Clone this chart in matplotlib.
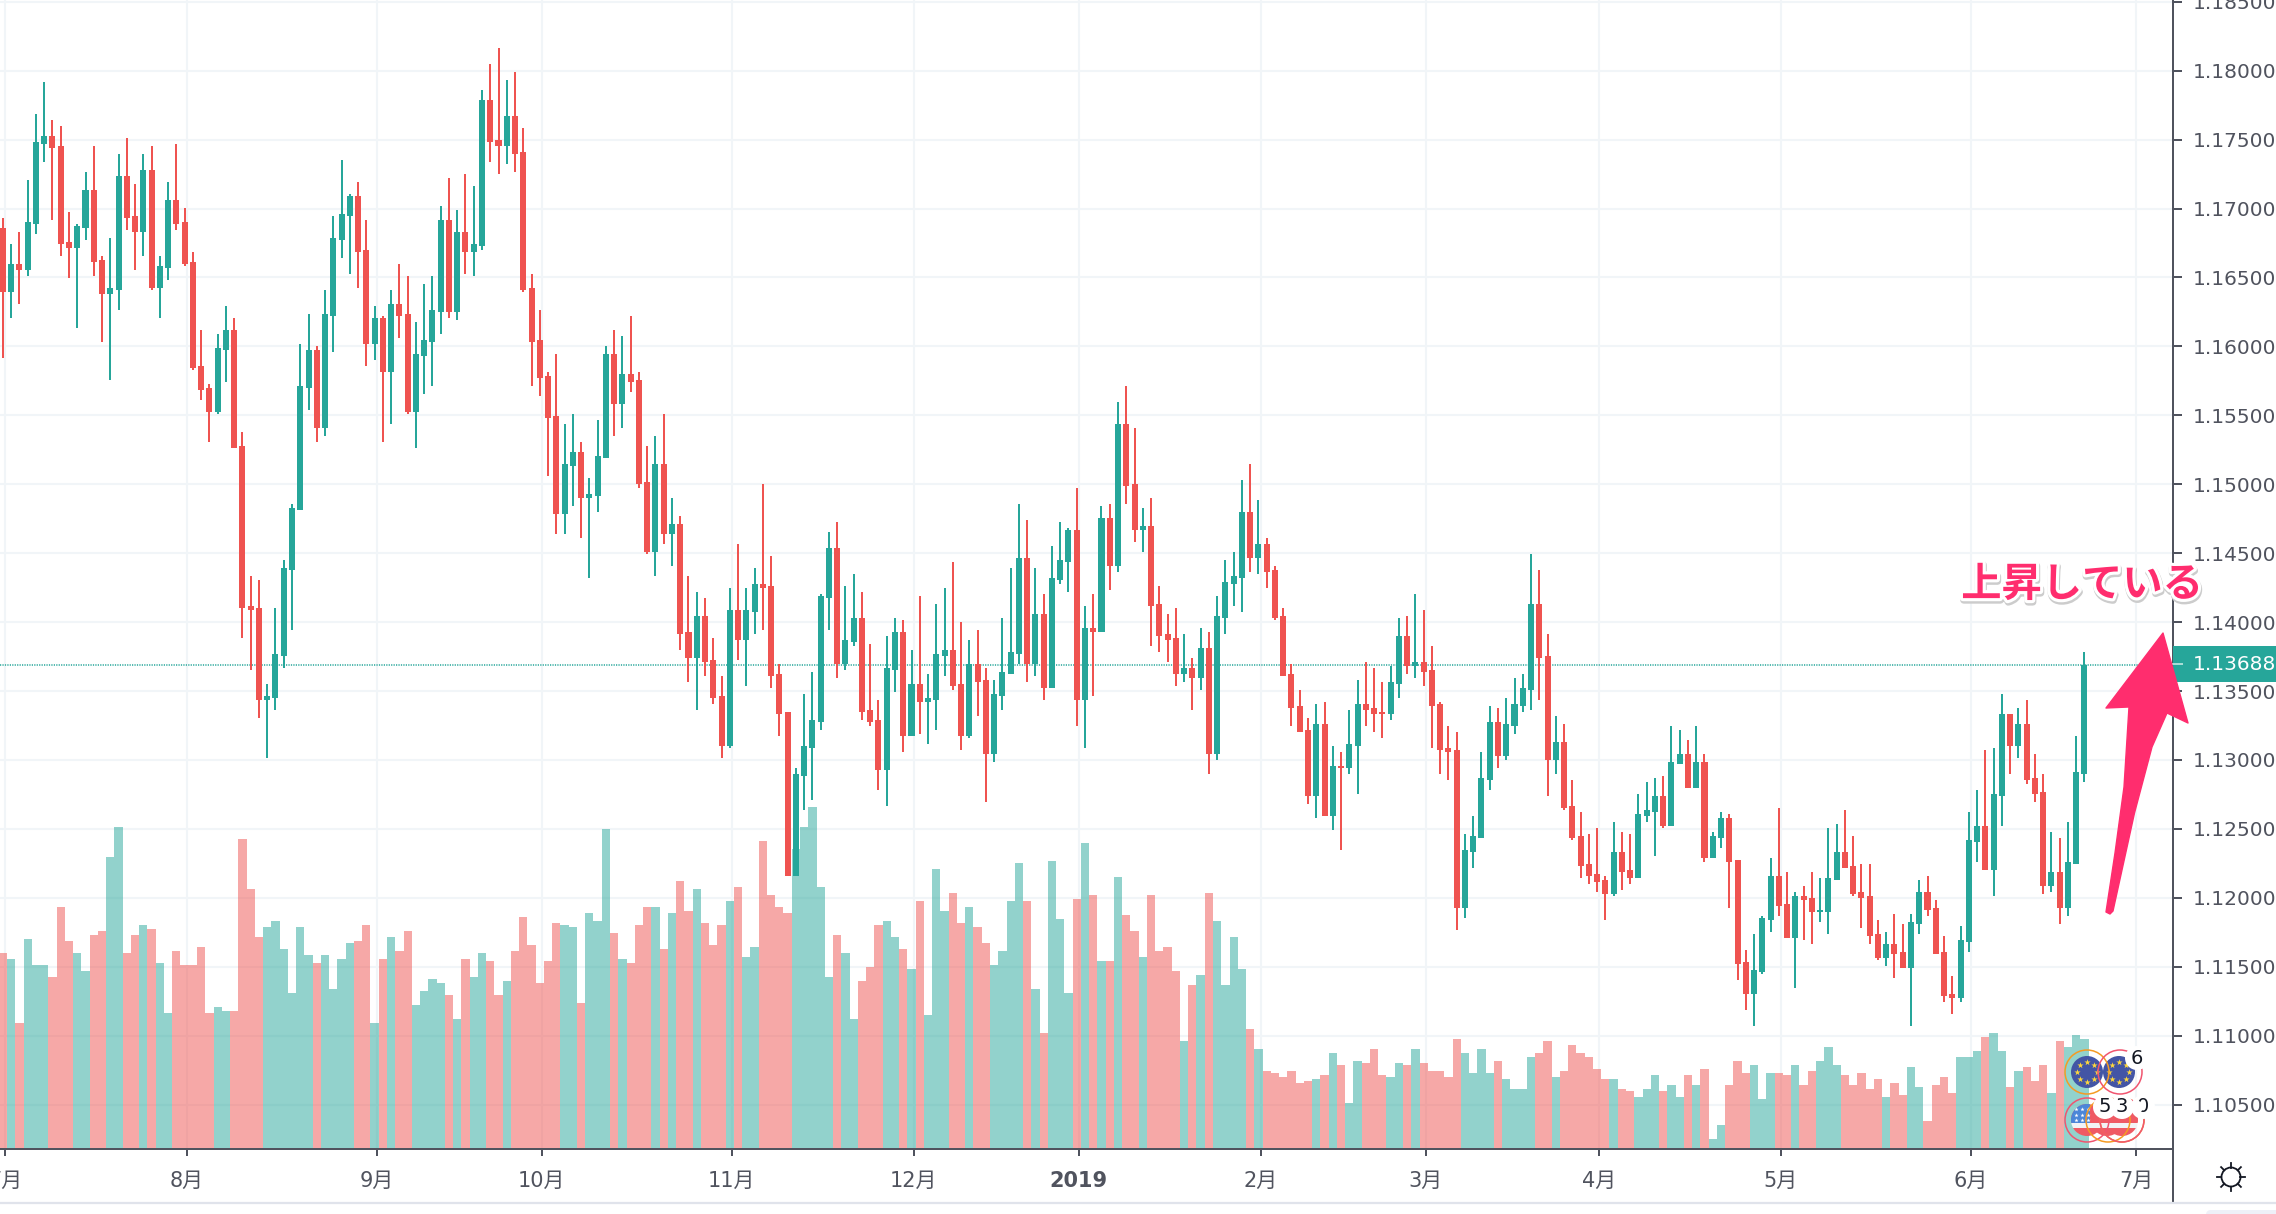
"""
EURUSD daily candles + volume, values read off the screenshot
"""
import numpy as np
import matplotlib
matplotlib.use('Agg')
import matplotlib.pyplot as plt
import matplotlib.patheffects as pe
from matplotlib.patches import Circle, Polygon, Rectangle, FancyBboxPatch

plt.rcParams['font.family'] = ['DejaVu Sans', 'Noto Sans CJK JP']

# R = down, G = up
updown = list(
    "RGRGGGRRRG" "GRRGGRRGRG" "GRRRRRGGRR" "RRGGGGGGRG" "GGGRRGRGRR"
    "GGGGRGRGGR" "RGRRRRRRGG" "RGGGRGRRRG" "RGRRGRRRGR" "GGRRRRGGGG"
    "GRGGRRRGGR" "GRGGGRRGRR" "GGGGRGRGGG" "RGRGRGRRGR" "RRRGRGRGGG"
    "GRGRRRRRRG" "RGRGGRRRGG" "RGRRRRRGGG" "GRGGGGRRGR" "RRRRRGRRGG"
    "GRGGRGRGGR" "RRGGGRRGRR" "GGGRRRRRGR" "RGGRRRRGGG" "RGGRGRRRGR"
    "GGG")

# prices in 1e-5 (points)
body_top = [
    116859,116598,116598,116903,117483,117526,117526,117454,116758,116874,
    117135,117135,116627,116424,117236,117236,116946,117280,117280,116583,
    117062,117062,116903,116612,115858,115698,115989,116119,116119,115278,
    114117,114103,113464,113769,114393,114828,115713,115974,115974,116235,
    116787,116961,117091,117091,116699,116206,116206,116308,116308,116235,
    115945,116047,116264,116917,116917,116830,116830,116743,117788,117788,
    117497,117672,117672,117410,116424,116047,115785,115495,115147,115234,
    115234,114929,115205,115945,115945,115800,115800,115756,115016,115147,
    115147,114711,114711,113928,114044,114044,113725,113464,114088,114088,
    114088,114276,114276,114262,113623,113348,112898,113101,113290,114189,
    114537,114537,113870,114030,114030,113362,113290,113667,113928,113928,
    113551,113551,113449,113768,113797,113797,113551,113696,113696,113580,
    113478,113638,113783,114465,114465,114059,114059,114320,114450,114668,
    114668,113957,113957,114755,114755,115437,115437,115002,114697,114697,
    114132,113914,113885,113667,113667,113812,113812,114045,114291,114335,
    114799,114799,114567,114567,114378,114045,113624,113392,113218,113261,
    113261,112956,112956,113116,113406,113406,113377,113348,113566,113899,
    113899,113711,113711,113653,113406,113087,113072,112347,112449,112869,
    113276,113276,113261,113406,113522,114132,114132,113754,113131,113131,
    112666,112449,112246,112173,112129,112333,112333,112202,112608,112637,
    112739,112739,112986,113044,113044,112986,112986,112449,112579,112579,
    112275,111535,111477,111854,112159,112159,111955,112013,112013,111999,
    111912,112144,112333,112333,112231,112043,112013,111738,111665,111665,
    111607,111825,112043,112043,111926,111607,111303,111694,112420,112521,
    112521,112753,113334,113334,113261,113261,112869,112768,112188,112188,
    112260,112913,113688]

body_bot = [
    116395,116395,116554,116554,116888,117468,117439,116743,116714,116714,
    116859,116612,116380,116380,116409,116932,116830,116830,116424,116424,
    116569,116888,116598,115844,115684,115524,115524,115974,115263,114103,
    114088,113435,113435,113450,113754,114378,114813,115698,115408,115408,
    116221,116772,116946,116685,116018,116018,115815,115815,116221,115524,
    115524,115931,116032,116250,116250,116250,116685,116685,116729,117483,
    117454,117454,117396,116409,116032,115771,115481,114784,114784,115132,
    114900,114900,114915,115190,115582,115582,115742,115002,114508,114508,
    114639,114639,113914,113739,113739,113710,113449,113101,113101,113870,
    113870,114073,114247,113609,113333,112158,112158,112883,113087,113275,
    114175,113696,113696,113856,113348,113275,112927,112927,113652,113174,
    113174,113420,113420,113435,113754,113536,113174,113174,113565,113043,
    113043,113464,113623,113768,113696,113696,113522,113522,114305,114436,
    113435,113435,113928,113928,114407,114407,114988,114668,114668,114117,
    113899,113870,113624,113624,113595,113595,113043,113043,114030,114277,
    114320,114465,114465,114364,114030,113609,113377,113203,112739,112739,
    112594,112594,112942,112942,113101,113363,113334,113334,113334,113551,
    113682,113682,113638,113392,113072,113058,111926,111926,112333,112434,
    112855,113029,113029,113247,113392,113508,113740,113000,113000,112652,
    112434,112231,112158,112115,112028,112028,112187,112144,112144,112594,
    112623,112521,112521,112971,112797,112797,112289,112289,112434,112260,
    111520,111303,111303,111462,111839,111941,111709,111709,111984,111897,
    111897,111897,112130,112217,112028,111999,111723,111564,111564,111593,
    111491,111491,111810,111912,111593,111288,111274,111274,111680,112405,
    112202,112202,112739,113102,113102,112855,112753,112086,112086,111926,
    111926,112246,112898]

highs = [
    116932,116743,116830,117207,117686,117918,117643,117599,116975,116888,
    117265,117454,116656,116787,117396,117512,117178,117396,117454,116656,
    117193,117468,117004,116685,116119,115727,116090,116293,116206,115379,
    114335,114306,113551,114103,114451,114857,116018,116235,116003,116409,
    116946,117352,117106,117193,116917,116293,116221,116409,116598,116511,
    116177,116453,116511,117019,117222,116990,117251,117164,117860,118049,
    118165,117933,117991,117584,116525,116264,115815,115945,115437,115509,
    115306,115045,115466,116003,116119,116075,116220,115814,115277,115350,
    115509,114900,114770,114334,114218,114175,113885,113609,114247,114566,
    114247,114392,115002,114479,113696,113348,112942,113478,113638,114204,
    114653,114726,114262,114349,114218,113841,113435,113899,114030,114015,
    113797,114189,113623,114131,114247,114436,114001,113870,113943,113667,
    113580,114030,114392,114857,114741,114392,114204,114552,114726,114682,
    114973,114117,114204,114842,114857,115597,115713,115408,114828,114900,
    114262,114059,114103,113914,113740,113957,113928,114190,114451,114509,
    115031,115147,114886,114610,114407,114103,113696,113508,113305,113406,
    113421,113101,113058,113363,113580,113711,113667,113566,113682,114030,
    114045,114204,114088,113827,113421,113247,113203,112463,112594,113058,
    113392,113377,113450,113595,113624,114494,114378,113914,113319,113261,
    112855,112623,112463,112507,112158,112550,112478,112463,112753,112840,
    112869,112884,113247,113218,113145,113247,113044,112478,112623,112608,
    112275,111622,111738,111868,112289,112652,112188,112043,112086,112188,
    112144,112507,112536,112637,112449,112246,112246,111839,111752,111883,
    111810,111883,112130,112159,111984,111723,111433,111796,112623,112782,
    113073,113087,113479,113334,113377,113435,113044,112898,112478,112434,
    112550,113174,113783]

lows = [
    115916,116206,116308,116511,116816,117338,116917,116656,116496,116134,
    116772,116511,116032,115756,116264,116845,116554,116656,116409,116206,
    116482,116845,116583,115829,115611,115307,115510,115742,115263,113885,
    113653,113305,113014,113363,113667,113943,114813,115539,115307,115350,
    115960,116641,116525,116424,115858,115902,115307,115437,116061,115510,
    115263,115655,115713,116090,116206,116192,116525,116511,116699,117338,
    117251,117323,117265,116395,115713,115640,115060,114639,114639,114842,
    114610,114320,114799,115190,115350,115408,115669,114973,114494,114334,
    114566,114407,113797,113565,113362,113609,113406,113014,113087,113725,
    113536,113914,113943,113522,113174,112158,112158,112637,112709,113217,
    113943,113594,113652,113827,113290,113246,112782,112666,113493,113058,
    113174,113188,113116,113217,113609,113507,113072,113159,113319,112695,
    112985,113362,113623,113696,113565,113609,113435,113522,114276,114218,
    113246,113087,113464,113928,114233,114364,114857,114581,114509,113827,
    113783,113711,113537,113566,113363,113508,112898,113000,113914,114117,
    114074,114364,114349,114248,114015,113609,113247,113203,112681,112579,
    112594,112492,112347,112898,112753,113247,113203,113160,113290,113450,
    113624,113595,113537,113087,112898,112855,111767,111854,112217,112434,
    112782,112942,113000,113189,113348,113363,113435,112739,112898,112637,
    112420,112144,112100,112042,111839,112013,112057,112100,112144,112550,
    112304,112507,112521,112971,112797,112797,112260,112289,112362,111926,
    111404,111187,111073,111448,111752,111868,111709,111346,111694,111665,
    111825,111738,112130,112217,112013,111781,111665,111549,111506,111419,
    111491,111073,111738,111868,111593,111245,111158,111245,111607,112260,
    112202,112013,112521,112898,113015,112826,112695,112028,112043,111810,
    111868,112246,112840]

# volume, arbitrary units
volume = [
    589,571,379,631,553,553,517,727,625,589,
    535,643,655,877,967,589,643,673,661,559,
    409,595,553,553,607,409,427,415,415,931,
    781,637,667,685,601,469,667,583,559,583,
    481,571,619,625,673,379,571,637,595,655,
    433,475,511,499,463,391,571,517,589,565,
    463,505,595,697,613,499,565,679,673,667,
    439,709,685,961,649,571,559,673,727,727,
    601,709,805,715,781,679,613,673,745,787,
    577,607,925,763,727,709,901,967,1027,787,
    517,643,589,391,505,547,673,685,637,601,
    541,745,403,841,715,769,679,727,667,619,
    553,595,745,859,745,481,349,865,691,469,
    751,919,763,565,565,817,703,655,577,763,
    595,607,535,325,493,523,769,685,493,637,
    541,361,301,235,229,217,235,199,205,211,
    223,289,253,139,265,259,301,223,217,259,
    253,301,259,235,235,217,331,289,229,301,
    229,265,211,181,181,277,289,325,217,235,
    313,289,277,241,211,211,181,175,157,181,
    223,175,193,157,223,193,241,31,73,193,
    265,229,253,151,229,229,223,253,193,235,
    265,307,253,223,193,229,181,211,157,199,
    163,247,187,85,193,217,169,277,277,295,
    337,349,295,187,235,247,205,253,169,325,
    307,343,331]

month_bars = [0, 22, 45, 65, 88, 110, 130, 152, 172, 193, 215, 238, 258]
month_labels = ['7月', '8月', '9月', '10月', '11月', '12月', '2019', '2月', '3月', '4月', '5月', '6月', '7月']
price_ticks = [1.105, 1.11, 1.115, 1.12, 1.125, 1.13, 1.135, 1.14, 1.145, 1.15,
               1.155, 1.16, 1.165, 1.17, 1.175, 1.18, 1.185]
last_price = 1.13688

UP = '#26a69a'
DOWN = '#ef5350'
GRID = '#f1f5f8'
AXIS = '#50535e'
PINK = '#ff2d6e'

W, H = 2276, 1214
fig = plt.figure(figsize=(W/100, H/100), dpi=100)
ax = fig.add_axes([0, (H-1149)/H, 2173/W, 1149/H])

ymin, ymax = 1.10178, 1.18513
ax.set_xlim(-0.351, 262.72)
ax.set_ylim(ymin, ymax)

top = np.array(body_top)/1e5
bot = np.array(body_bot)/1e5
hi = np.array(highs)/1e5
lo = np.array(lows)/1e5
vol = np.array(volume, dtype=float)
x = np.arange(len(top))
is_up = np.array([c == 'G' for c in updown])
cols = np.where(is_up, UP, DOWN)

# grid first, volumes are see-through on top of it
ax.set_axisbelow(True)
ax.set_xticks(np.array(month_bars)+0.25)
ax.set_xticklabels(month_labels)
ax.set_yticks(price_ticks)
ax.set_yticklabels([f'{p:.5f}' for p in price_ticks])
ax.grid(True, color=GRID, lw=1.5)
for lab in ax.get_xticklabels():
    if lab.get_text() == '2019':
        lab.set_fontweight('bold')

ax.yaxis.tick_right()
ax.tick_params(axis='y', length=6.5, width=1.44, color=AXIS, labelcolor=AXIS, labelsize=14.5, pad=7.5)
ax.tick_params(axis='x', length=5, width=1.44, color=AXIS, labelcolor=AXIS, labelsize=15, pad=10.5)
for s in ['top', 'left']:
    ax.spines[s].set_visible(False)
for s in ['right', 'bottom']:
    ax.spines[s].set_color(AXIS)
    ax.spines[s].set_linewidth(1.44)

# volume sits on the bottom of the price scale
k = (ymax-ymin)/3447
ax.bar(x, vol*k, bottom=ymin, width=1.0, color=cols, alpha=0.5, linewidth=0, antialiased=False, zorder=1)

ax.axhline(last_price, color=UP, lw=1.1, ls=(0, (0.8, 0.8)), zorder=1.5)

ax.vlines(x, lo, hi, colors=cols, lw=1.44, antialiased=False, zorder=2)
ax.bar(x, top-bot, bottom=bot, width=0.73, color=cols, linewidth=0, antialiased=False, zorder=3)

# overlay in screen pixels for the hand drawn stuff and the widgets
ov = fig.add_axes([0, 0, 1, 1])
ov.set_xlim(0, W); ov.set_ylim(H, 0)
ov.axis('off'); ov.patch.set_visible(False)

# right axis runs on to the bottom border, then the footer line
ov.plot([2173, 2173], [1149, 1203], color=AXIS, lw=1.44, solid_capstyle='butt')
ov.plot([0, W], [1203, 1203], color='#e0e3eb', lw=1.6)
ov.add_patch(FancyBboxPatch((2206, 1210), 80, 12, boxstyle='round,pad=0,rounding_size=5',
                            fc='#eef0f8', ec='none'))

# last price badge
ov.add_patch(Rectangle((2173, 646), 103, 36, fc=UP, ec='none', zorder=3))
ov.plot([2173, 2182], [664, 664], color='#a8dcd6', lw=1.44, zorder=4)
ov.text(2192.5, 664, f'{last_price:.5f}', color='white', fontsize=14.5, va='center', ha='left', zorder=4)

# sun icon
ov.add_patch(Circle((2231, 1177), 9.5, fc='none', ec='#131722', lw=1.3))
for a in np.arange(8)*np.pi/4:
    ov.plot([2231+9.5*np.cos(a), 2231+14*np.cos(a)], [1177+9.5*np.sin(a), 1177+14*np.sin(a)],
            color='#131722', lw=1.3)

# event icons
def eu_flag(cx, cy):
    ov.add_patch(Circle((cx, cy), 16, fc='#4355a5', ec='none', zorder=5))
    a = np.arange(8)*np.pi/4
    ov.scatter(cx+10*np.cos(a), cy+10*np.sin(a), marker='*', s=22, color='#ffd83b', linewidths=0, zorder=6)

def us_flag(cx, cy):
    c = Circle((cx, cy), 16, transform=ov.transData)
    stripes = [(-16, 19, '#ef5a64'), (3, 5, '#f2f3f5'), (8, 8, '#ef5a64')]
    for off, h, col in stripes:
        r = ov.add_patch(Rectangle((cx-16, cy+off), 32, h, fc=col, ec='none', zorder=5))
        r.set_clip_path(c)
    return c

def ring(cx, cy, col, r=22):
    ov.add_patch(Circle((cx, cy), r, fc='none', ec=col, lw=1.1, zorder=8))

us_flag(2122, 1120); us_flag(2107, 1120)
c0 = us_flag(2087, 1120)
canton = ov.add_patch(Rectangle((2071, 1104), 19, 19, fc='#4b86d8', ec='none', zorder=6))
canton.set_clip_path(c0)
sx, sy = np.meshgrid([2076, 2082, 2088], [1109, 1115, 1120])
ov.scatter(sx.ravel(), sy.ravel(), marker='*', s=10, color='white', linewidths=0, zorder=7)
eu_flag(2087, 1072); eu_flag(2119, 1072)
ring(2087, 1072, '#f59b23')
ring(2120, 1072, '#f0556f')
ring(2087, 1120, '#f0556f')
ring(2108, 1120, '#f59b23')
ring(2122, 1120, '#f59b23')
ring(2122, 1120, '#f0556f')
for cx, cy, t in [(2137, 1058, '6'), (2105, 1107, '5'), (2122, 1107, '3'), (2143, 1107, '0')]:
    ov.add_patch(Circle((cx, cy), 12, fc='white', ec='none', zorder=9))
    ov.text(cx, cy, t, fontsize=14, color='#131722', ha='center', va='center', zorder=10)
ov.add_patch(Circle((2136.5, 1107), 6.5, fc='white', ec='none', zorder=11))

# big pink arrow and the note
arrow_shape = [(2163, 633), (2188, 723), (2167, 713), (2152, 747), (2134.5, 813), (2113, 911),
               (2110, 914), (2106, 912), (2115, 853), (2124, 787), (2129, 707), (2106, 708)]
ov.add_patch(Polygon(arrow_shape, closed=True, fc=PINK, ec=PINK, lw=1, joinstyle='round', zorder=12))
ov.text(2082, 585, '上昇している', color=PINK, fontsize=29, fontweight='bold',
        family=['Noto Sans CJK JP', 'DejaVu Sans'], ha='center', va='center', zorder=13,
        path_effects=[pe.Stroke(linewidth=5, foreground='#cccccc', offset=(0.5, -1.5)),
                      pe.Stroke(linewidth=4.5, foreground='white'), pe.Normal()])

fig.savefig('out.png', dpi=100)
